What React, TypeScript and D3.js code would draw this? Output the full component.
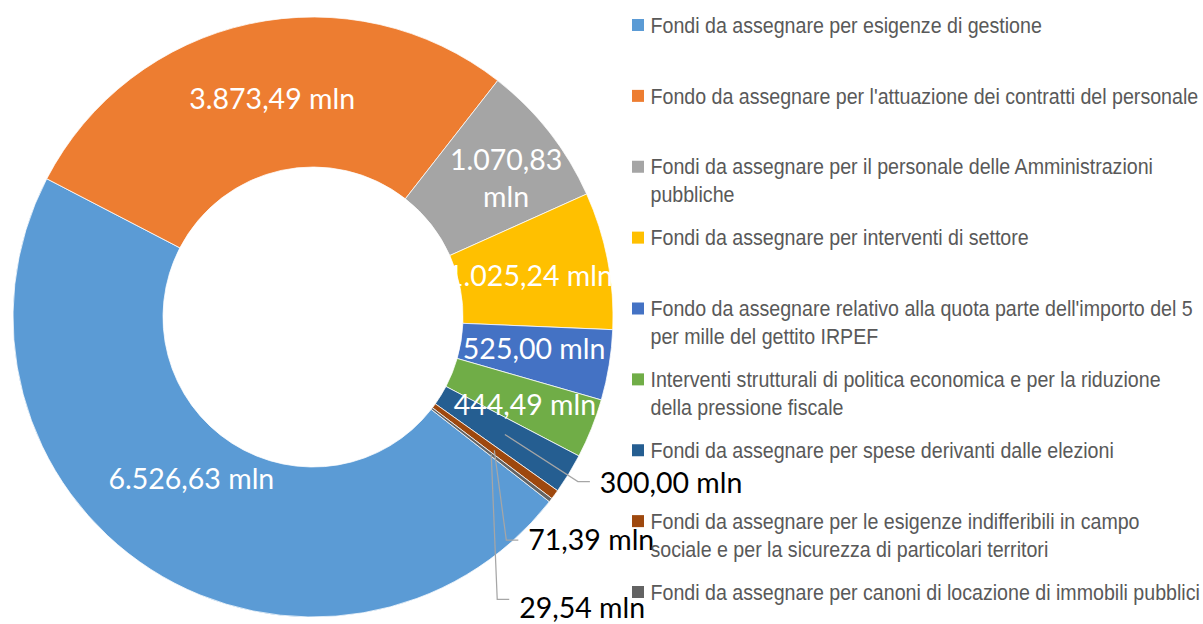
import React, { useEffect, useRef } from "react";
import * as d3 from "d3";

// legend entries (already split where the original wraps)
const categories: string[][] = [
  ["Fondi da assegnare per esigenze di gestione"],
  ["Fondo da assegnare per l'attuazione dei contratti del personale"],
  ["Fondi da assegnare per il personale delle Amministrazioni", "pubbliche"],
  ["Fondi da assegnare per interventi di settore"],
  ["Fondo da assegnare relativo alla quota parte dell'importo del 5", "per mille del gettito IRPEF"],
  ["Interventi strutturali di politica economica e per la riduzione", "della pressione fiscale"],
  ["Fondi da assegnare per spese derivanti dalle elezioni"],
  ["Fondi da assegnare per le esigenze indifferibili in campo", "sociale e per la sicurezza di particolari territori"],
  ["Fondi da assegnare per canoni di locazione di immobili pubblici"],
];
// millions of euro
const values = [6526.63, 3873.49, 1070.83, 1025.24, 525.0, 444.49, 300.0, 71.39, 29.54];
const colors = ["#5B9BD5", "#ED7D31", "#A5A5A5", "#FFC000", "#4472C4", "#70AD47", "#255E91", "#9E480E", "#636363"];

// label placement (Excel moved some of them by hand)
const outside = [false, false, false, false, false, false, true, true, true];
const wrapLabel = [false, false, true, false, false, false, false, false, false];
const labelNudge = [[0, -27], [7, 2], [16, 0], [-4, 2], [-1, -4], [3, 4], [95, 49], [34, 90], [28, 154]];
const leaderDy = [0, 0, 0, 0, 0, 0, -2, 0, -9];

const itLocale = d3.formatLocale({ decimal: ",", thousands: ".", grouping: [3], currency: ["€", ""] });
const fmt = itLocale.format(",.2f");

const DonutChart = ({ width, height }) => {
  const svgRef = useRef(null);

  useEffect(() => {
    const svg = d3.select(svgRef.current);
    svg.selectAll("*").remove();

    const cx = 313;
    const cy = 317;
    const outerR = 300;
    const innerR = 150;
    const labelR = (outerR + innerR) / 2;
    const start = (128 * Math.PI) / 180;

    const pie = d3.pie<number>().sort(null).startAngle(start).endAngle(start + 2 * Math.PI);
    const arcs = pie(values);
    const arc = d3.arc().innerRadius(innerR).outerRadius(outerR);
    const labelArc = d3.arc().innerRadius(labelR).outerRadius(labelR);

    const g = svg.append("g").attr("transform", `translate(${cx},${cy})`);

    g.selectAll("path.slice")
      .data(arcs)
      .join("path")
      .attr("class", "slice")
      .attr("d", arc as any)
      .attr("fill", (d, i) => colors[i])
      .attr("stroke", "#fff")
      .attr("stroke-width", 0.75);

    const labelFont = "Lato, 'Open Sans', sans-serif";

    arcs.forEach((d, i) => {
      const [px, py] = labelArc.centroid(d as any);
      const tx = px + labelNudge[i][0];
      const ty = py + labelNudge[i][1];
      const txt = fmt(values[i]) + " mln";

      if (outside[i]) {
        const ly = ty + leaderDy[i];
        g.append("polyline")
          .attr("points", `${px},${py} ${tx - 22},${ly} ${tx - 10},${ly}`)
          .attr("fill", "none")
          .attr("stroke", "#A6A6A6")
          .attr("stroke-width", 1.25);
        g.append("text")
          .attr("x", tx)
          .attr("y", ty)
          .attr("dy", "0.35em")
          .attr("text-anchor", "start")
          .attr("font-family", labelFont)
          .attr("font-size", 28.5)
          .attr("fill", "#000")
          .text(txt);
      } else {
        const lines = wrapLabel[i] ? [fmt(values[i]), "mln"] : [txt];
        const lh = 37;
        lines.forEach((line, k) => {
          g.append("text")
            .attr("x", tx)
            .attr("y", ty + (k - (lines.length - 1) / 2) * lh)
            .attr("dy", "0.35em")
            .attr("text-anchor", "middle")
            .attr("font-family", labelFont)
            .attr("font-size", 28.5)
            .attr("fill", "#fff")
            .text(line);
        });
      }
    });

    // legend on the right; no narrow font installed, so squeeze the text horizontally
    const squeeze = 0.892;
    const legendY = d3.scalePoint<number>().domain(d3.range(categories.length)).range([25, 592]);
    const legend = svg.append("g").attr("transform", "translate(632,0)");
    categories.forEach((lines, i) => {
      const y = legendY(i);
      legend.append("rect")
        .attr("x", 0)
        .attr("y", y - 6)
        .attr("width", 12)
        .attr("height", 12)
        .attr("fill", colors[i]);
      lines.forEach((line, k) => {
        legend.append("text")
          .attr("transform", `translate(18.5,${y + k * 28}) scale(${squeeze},1)`)
          .attr("dy", "0.35em")
          .attr("font-family", "'Liberation Sans Narrow', 'Arial Narrow', 'Liberation Sans', sans-serif")
          .attr("font-size", 22)
          .attr("fill", "#595959")
          .text(line);
      });
    });
  }, [width, height]);

  return (
    <svg
      ref={svgRef}
      width={width}
      height={height}
      style={{ position: "absolute", left: 0, top: 0, background: "#fff" }}
    />
  );
};

export default function App() {
  return <DonutChart width={1203} height={624} />;
}
